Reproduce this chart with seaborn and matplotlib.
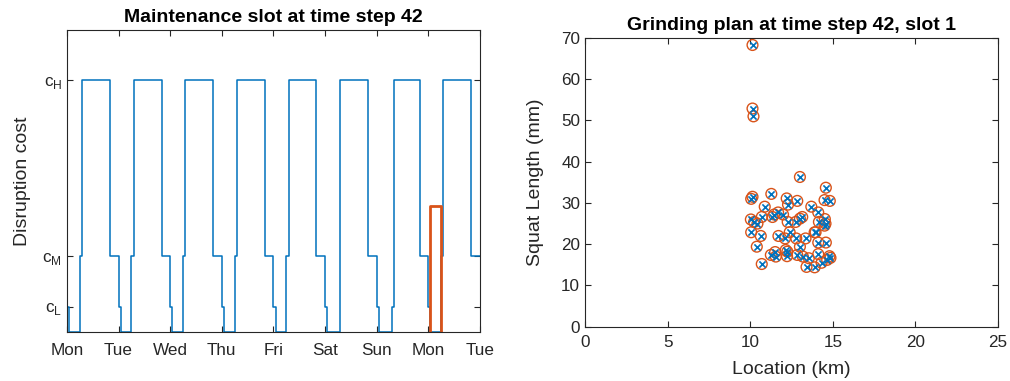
import matplotlib
matplotlib.use("Agg")
import matplotlib.pyplot as plt
import seaborn as sns
import numpy as np

# cost levels used on the left panel
cost_levels = {"0": 0, "L": 1, "M": 3, "H": 10}
level_ticks = [1, 3, 10]
level_labels = [r"c$_\mathregular{L}$", r"c$_\mathregular{M}$", r"c$_\mathregular{H}$"]

# hourly cost profile of one day (24 entries each)
weekday_profile = "L00000MHHHHHHHHHHHHHMMMM"
saturday_profile = "L000000HHHHHHHHHHHHHMMMM"
sunday_profile = "L000000LHHHHHHHHHHHHMMMM"
day_names = ["Mon", "Tue", "Wed", "Thu", "Fri", "Sat", "Sun", "Mon", "Tue"]
day_profiles = [weekday_profile] * 5 + [saturday_profile, sunday_profile, weekday_profile]

# chosen maintenance slot (hours from first Monday 00:00)
slot_start = 169
slot_end = 174
slot_cost = 5

# grinding plan
loc_km = [10.14, 10.14, 10.20, 13.01, 14.58, 11.28, 10.14, 10.06, 12.21, 12.85,
          12.29, 14.50, 14.82, 10.88, 13.70, 14.12, 10.70, 11.45, 11.69, 11.35,
          11.99, 10.04, 10.24, 10.44, 12.27, 12.75, 13.01, 13.15, 14.16, 14.52,
          14.56, 14.50, 10.06, 12.39, 10.64, 11.71, 12.11, 12.79, 13.35, 13.90,
          13.96, 14.12, 14.58, 10.40, 13.01, 11.25, 11.55, 11.51, 12.15, 12.25,
          12.23, 12.85, 13.19, 13.55, 13.41, 13.90, 14.12, 14.32, 14.66, 14.80,
          14.86, 10.70]
squat_mm = [68.3, 52.9, 51.0, 36.3, 33.7, 32.2, 31.5, 31.0, 31.1, 30.5,
            29.6, 30.7, 30.5, 29.1, 29.1, 27.7, 26.6, 27.2, 27.7, 26.6,
            27.2, 26.0, 25.4, 25.0, 25.4, 25.4, 26.2, 26.6, 25.4, 26.1,
            25.0, 24.5, 22.9, 22.9, 22.0, 22.0, 21.4, 21.4, 21.4, 22.9,
            22.9, 20.4, 20.4, 19.4, 19.4, 17.4, 17.0, 18.1, 18.6, 18.2,
            17.1, 17.4, 17.0, 16.6, 14.5, 14.4, 17.6, 15.5, 16.2, 17.1,
            16.7, 15.2]

BLUE = "#0072BD"
ORANGE = "#D95319"
AX_COL = "#262626"

sns.set_style("ticks")
plt.rcParams["font.family"] = ["Liberation Sans", "DejaVu Sans"]
plt.rcParams["mathtext.fontset"] = "custom"
plt.rcParams["mathtext.rm"] = "Liberation Sans"


def style_axes(ax):
    for s in ax.spines.values():
        s.set_color(AX_COL)
        s.set_linewidth(0.8)
    ax.tick_params(direction="in", top=True, right=True, length=4,
                   color=AX_COL, labelcolor=AX_COL, labelsize=12.3, width=0.8)


fig = plt.figure(figsize=(10.1, 3.81), dpi=100)

# ---- left: disruption cost over the week
ax1 = fig.add_axes([0.0663, 0.1286, 0.4089, 0.7927])
costs = [cost_levels[c] for p in day_profiles for c in p]
hours = np.arange(len(costs) + 1)
costs = costs + [costs[-1]]
sns.lineplot(x=hours, y=costs, drawstyle="steps-post", color=BLUE, lw=1.1,
             estimator=None, ax=ax1)
slot_x = [slot_start, slot_start, slot_end, slot_end]
slot_y = [0, slot_cost, slot_cost, 0]
sns.lineplot(x=slot_x, y=slot_y, sort=False, estimator=None, color=ORANGE,
             lw=2.0, ax=ax1)
ax1.set_xlim(0, 24 * (len(day_names) - 1))
ax1.set_ylim(0, 12)
ax1.set_xticks(np.arange(len(day_names)) * 24)
ax1.set_xticklabels(day_names)
ax1.set_yticks(level_ticks)
ax1.set_yticklabels(level_labels, fontsize=13.5)
ax1.set_ylabel("Disruption cost", fontsize=14, color=AX_COL, labelpad=8)
ax1.set_title("Maintenance slot at time step 42", fontsize=14, fontweight="bold",
              pad=6, color="black")
style_axes(ax1)
ax1.tick_params(axis="x", pad=8)

# ---- right: grinding plan
ax2 = fig.add_axes([0.5792, 0.1425, 0.4089, 0.7578])
sns.scatterplot(x=loc_km, y=squat_mm, marker="o", s=60, facecolors="none",
                edgecolor=ORANGE, linewidth=1.0, ax=ax2)
sns.scatterplot(x=loc_km, y=squat_mm, marker="x", s=20, color=BLUE,
                linewidth=1.2, ax=ax2)
ax2.set_xlim(0, 25)
ax2.set_ylim(0, 70)
ax2.set_xticks(np.arange(0, 26, 5))
ax2.set_yticks(np.arange(0, 71, 10))
ax2.set_xlabel("Location (km)", fontsize=14, color=AX_COL, labelpad=8)
ax2.set_ylabel("Squat Length (mm)", fontsize=14, color=AX_COL, labelpad=12)
ax2.set_title("Grinding plan at time step 42, slot 1", fontsize=14, fontweight="bold",
              pad=6, color="black")
style_axes(ax2)
ax2.tick_params(axis="x", pad=6)

fig.savefig("out.png", dpi=100)
